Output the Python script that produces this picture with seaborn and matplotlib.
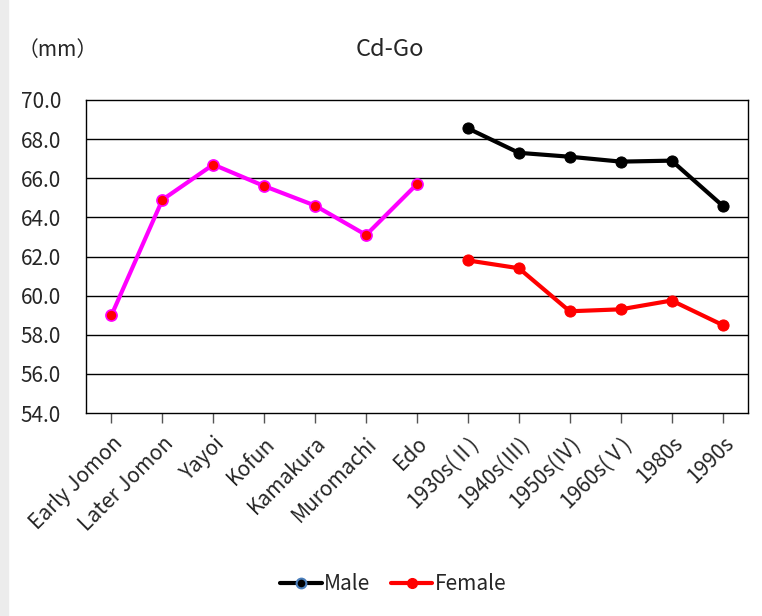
import matplotlib
matplotlib.use("Agg")
import matplotlib.pyplot as plt
from matplotlib.lines import Line2D
import seaborn as sns
import pandas as pd

categories = ["Early Jomon", "Later Jomon", "Yayoi", "Kofun", "Kamakura", "Muromachi", "Edo",
              "1930s(Ⅱ)", "1940s(Ⅲ)", "1950s(Ⅳ)", "1960s(Ⅴ)", "1980s", "1990s"]
hist_cats = categories[:7]
hist_vals = [59.0, 64.9, 66.7, 65.6, 64.6, 63.1, 65.7]
modern_cats = categories[7:]
male_vals = [68.55, 67.3, 67.1, 66.85, 66.9, 64.6]
female_vals = [61.8, 61.4, 59.2, 59.3, 59.75, 58.5]
yticks = [54, 56, 58, 60, 62, 64, 66, 68, 70]

sns.set_theme(style="white")
plt.rcParams['font.family'] = ['Noto Sans CJK JP', 'DejaVu Sans']

pos = {c: i for i, c in enumerate(categories)}
df_hist = pd.DataFrame({"x": [pos[c] for c in hist_cats], "y": hist_vals})
df_m = pd.DataFrame({"x": [pos[c] for c in modern_cats], "y": male_vals})
df_f = pd.DataFrame({"x": [pos[c] for c in modern_cats], "y": female_vals})

fig = plt.figure(figsize=(7.62, 6.16), dpi=100)
fig.patch.set_facecolor("white")
ax = fig.add_axes([86/762, (616-413)/616, (748-86)/762, (413-100)/616])

for y in yticks[1:-1]:
    ax.axhline(y, color="black", lw=1.0, zorder=0)

sns.lineplot(data=df_m, x="x", y="y", ax=ax, color="black", lw=3,
             marker="o", markersize=8, markerfacecolor="black", markeredgecolor="black", sort=False)
sns.lineplot(data=df_f, x="x", y="y", ax=ax, color="#ff0000", lw=3,
             marker="o", markersize=8, markerfacecolor="#ff0000", markeredgecolor="#ff0000", sort=False)
sns.lineplot(data=df_hist, x="x", y="y", ax=ax, color="#ff00ff", lw=3,
             marker="o", markersize=8, markerfacecolor="#ff0000", markeredgecolor="#ff00ff",
             markeredgewidth=1.2, sort=False)

ax.set_xlim(-0.5, len(categories) - 0.5)
ax.set_ylim(54, 70)
ax.set_yticks(yticks)
ax.set_yticklabels([f"{v:.1f}" for v in yticks], fontsize=15)
ax.set_xticks(range(len(categories)))
ax.set_xticklabels(categories, rotation=45, ha="right", rotation_mode="anchor", fontsize=15)
ax.tick_params(axis="x", which="major", direction="out", length=7, width=1, color="#555555",
               bottom=True, pad=7)
ax.tick_params(axis="y", length=0, pad=18)
ax.set_xlabel("")
ax.set_ylabel("")
for s in ax.spines.values():
    s.set_color("black")
    s.set_linewidth(1.0)
    s.set_visible(True)
if ax.get_legend():
    ax.get_legend().remove()

fig.text(390/762, 1 - 50/616, "Cd-Go", ha="center", va="center", fontsize=17)
fig.text(18/762, 1 - 50/616, "（mm）", ha="left", va="center", fontsize=15)

handles = [
    Line2D([0], [0], color="black", lw=3, marker="o", markersize=7,
           markerfacecolor="black", markeredgecolor="#4a7ebb", markeredgewidth=1.5),
    Line2D([0], [0], color="#ff0000", lw=3, marker="o", markersize=7,
           markerfacecolor="#ff0000", markeredgecolor="#ff0000"),
]
fig.legend(handles, ["Male", "Female"], loc="center", bbox_to_anchor=(393/762, 1 - 584/616),
           ncol=2, frameon=False, fontsize=15, handlelength=2.0, handletextpad=0.1, columnspacing=1.0)

fig.patches.append(plt.Rectangle((0, 0), 8/762, 1, transform=fig.transFigure,
                                 color="#ececec", zorder=-1))

fig.savefig("out.png", dpi=100)
